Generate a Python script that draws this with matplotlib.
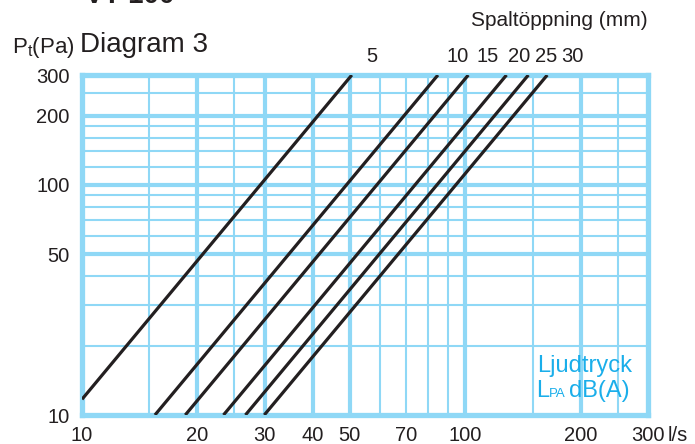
import numpy as np
import matplotlib
matplotlib.use('Agg')
from matplotlib import pyplot as plt
from matplotlib.transforms import blended_transform_factory

plt.rcParams['font.family'] = ['Liberation Sans', 'DejaVu Sans']
plt.rcParams['mathtext.fontset'] = 'custom'
plt.rcParams['mathtext.rm'] = 'Liberation Sans'
plt.rcParams['mathtext.it'] = 'Liberation Sans'

# slot openings (mm) and the end points of each pressure line
openings = ['5', '10', '15', '20', '25', '30']
flow_start = [10.0, 15.5, 18.6, 23.4, 26.7, 29.9]      # l/s
pressure_start = [11.7, 10, 10, 10, 10, 10]           # Pa
flow_end = [50.6, 84.9, 101.9, 128.2, 146.2, 163.8]   # l/s
pressure_end = [300, 300, 300, 300, 300, 300]         # Pa

x_ticks = [10, 20, 30, 40, 50, 70, 100, 200, 300]
y_ticks = [10, 50, 100, 200, 300]
x_major = [20, 30, 40, 50, 100, 200]
x_minor = [15, 25, 60, 70, 80, 90, 150, 250]
y_major = [50, 100, 200]
y_minor = [20, 30, 40, 60, 70, 80, 90, 120, 140, 160, 180, 250]

# where the opening labels sit above the plot
label_x = [57.1, 95.3, 114.2, 138.5, 163.0, 190.6]

BLUE = '#8fd8f6'
CYAN = '#1aaeea'
INK = '#231f20'

W, H = 695, 444
fig = plt.figure(figsize=(W / 100, H / 100), dpi=100)
ax = fig.add_axes([82 / W, 1 - 415 / H, (648 - 82) / W, (415 - 75) / H])
ax.set_xscale('log')
ax.set_yscale('log')
ax.set_xlim(10, 300)
ax.set_ylim(10, 300)

for v in x_minor:
    ax.axvline(v, color=BLUE, linewidth=1.5, zorder=1)
for v in x_major:
    ax.axvline(v, color=BLUE, linewidth=3.0, zorder=1)
for v in y_minor:
    ax.axhline(v, color=BLUE, linewidth=1.5, zorder=1)
for v in y_major:
    ax.axhline(v, color=BLUE, linewidth=3.0, zorder=1)

for q0, p0, q1, p1 in zip(flow_start, pressure_start, flow_end, pressure_end):
    ax.plot([q0, q1], [p0, p1], color=INK, linewidth=2.3, solid_capstyle='butt', zorder=3)

for s in ax.spines.values():
    s.set_color(BLUE)
    s.set_linewidth(3.8)
    s.set_zorder(2)

ax.xaxis.set_minor_locator(matplotlib.ticker.NullLocator())
ax.yaxis.set_minor_locator(matplotlib.ticker.NullLocator())
ax.set_xticks(x_ticks)
ax.set_xticklabels([str(t) for t in x_ticks])
ax.set_yticks(y_ticks)
ax.set_yticklabels([str(t) for t in y_ticks])
ax.tick_params(length=0, labelsize=14.5, labelcolor=INK)
ax.tick_params(axis='x', pad=8)
ax.tick_params(axis='y', pad=9)

trans = blended_transform_factory(ax.transData, ax.transAxes)
for lab, xv in zip(openings, label_x):
    ax.text(xv, 1.053, lab, transform=trans, ha='center', va='center',
            fontsize=14.5, color=INK, clip_on=False)

fig.text(648 / W, 1 - 20 / H, 'Spaltöppning (mm)', ha='right', va='center',
         fontsize=15, color=INK)
fig.text(12 / W, 1 - 53 / H, r'P$_\mathrm{t}$(Pa)', ha='left', va='baseline',
         fontsize=16, color=INK)
fig.text(80 / W, 1 - 52 / H, 'Diagram 3', ha='left', va='baseline',
         fontsize=20, color=INK)
fig.text(85 / W, 1 - 3 / H, 'VT 100', ha='left', va='baseline',
         fontsize=20, fontweight='bold', color=INK)
fig.text(668 / W, 1 - 435 / H, 'l/s', ha='left', va='center',
         fontsize=14.5, color=INK)

ax.text(537 / W, 1 - 372 / H, 'Ljudtryck', transform=fig.transFigure,
        ha='left', va='baseline', fontsize=17, color=CYAN, zorder=4)
ax.text(536 / W, 1 - 397 / H, 'L', transform=fig.transFigure,
        ha='left', va='baseline', fontsize=17, color=CYAN, zorder=4)
ax.text(549 / W, 1 - 397 / H, 'PA', transform=fig.transFigure,
        ha='left', va='baseline', fontsize=9.5, color=CYAN, zorder=4)
ax.text(569 / W, 1 - 397 / H, 'dB(A)', transform=fig.transFigure,
        ha='left', va='baseline', fontsize=17, color=CYAN, zorder=4)

fig.savefig('out.png', dpi=100)
